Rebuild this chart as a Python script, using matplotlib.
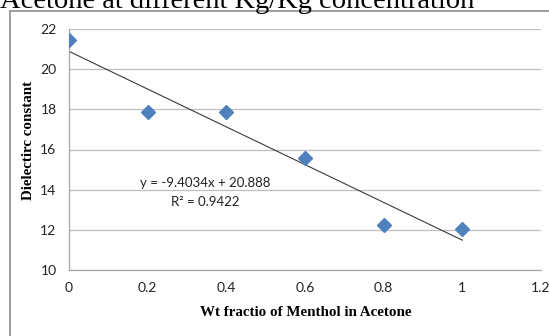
import matplotlib
matplotlib.use("Agg")
import matplotlib.pyplot as plt
from matplotlib.patches import Rectangle
import numpy as np

x_vals = [0, 0.2, 0.4, 0.6, 0.8, 1.0]
y_vals = [21.45, 17.85, 17.85, 15.6, 12.22, 12.02]
slope = -9.4034
intercept = 20.888
r2 = 0.9422
x_ticks = [0, 0.2, 0.4, 0.6, 0.8, 1, 1.2]
x_tick_labels = ["0", "0.2", "0.4", "0.6", "0.8", "1", "1.2"]
y_ticks = [10, 12, 14, 16, 18, 20, 22]

fig = plt.figure(figsize=(5.49, 3.36), dpi=100)
W, H = 549, 336

# outer chart frame
fig.patches.append(Rectangle((10 / W, -0.1), 1.2, (H - 11) / H + 0.1,
                             transform=fig.transFigure, fill=False,
                             edgecolor="#8c8c8c", linewidth=1.2))

# title (cropped at top as in the reference)
fig.text(0 / W, 1 - 8 / H, "Acetone at different Kg/Kg concentration",
         family="Liberation Serif", fontsize=20.5, ha="left", va="baseline",
         color="black")

ax = fig.add_axes([69 / W, 1 - 270 / H, (541 - 69) / W, (270 - 29) / H])
ax.set_xlim(0, 1.2)
ax.set_ylim(10, 22)
ax.set_xticks(x_ticks)
ax.set_xticklabels(x_tick_labels)
ax.set_yticks(y_ticks)
ax.tick_params(length=0, labelsize=10, pad=9, labelcolor="#222222")
for lab in ax.get_xticklabels() + ax.get_yticklabels():
    lab.set_family("Lato")
ax.grid(axis="y", color="#bfbfbf", linewidth=0.9)
ax.set_axisbelow(True)
for s in ["top", "right"]:
    ax.spines[s].set_visible(False)
for s in ["left", "bottom"]:
    ax.spines[s].set_color("#a6a6a6")
    ax.spines[s].set_linewidth(0.9)

xt = np.array([0.0, 1.0])
ax.plot(xt, slope * xt + intercept, color="#3a3a3a", linewidth=0.8, zorder=2)
ax.plot(x_vals, y_vals, linestyle="none", marker="D", markersize=7.5,
        color="#4F81BD", zorder=3)

ax.text(205 / W, 1 - 183 / H, f"y = {slope}x + {intercept}",
        transform=fig.transFigure, ha="center", va="center",
        family="Lato", fontsize=9.5, color="#222222")
ax.text(205 / W, 1 - 202 / H, f"R² = {r2}",
        transform=fig.transFigure, ha="center", va="center",
        family="Lato", fontsize=9.5, color="#222222")

fig.text(306 / W, 1 - 313 / H, "Wt fractio of Menthol in Acetone",
         family="Liberation Serif", fontweight="bold", fontsize=10.8,
         ha="center", va="center")
fig.text(29 / W, 1 - 140 / H, "Dielectirc constant",
         family="Liberation Serif", fontweight="bold", fontsize=10.8,
         ha="center", va="center", rotation=90)

fig.savefig("out.png", dpi=100)
